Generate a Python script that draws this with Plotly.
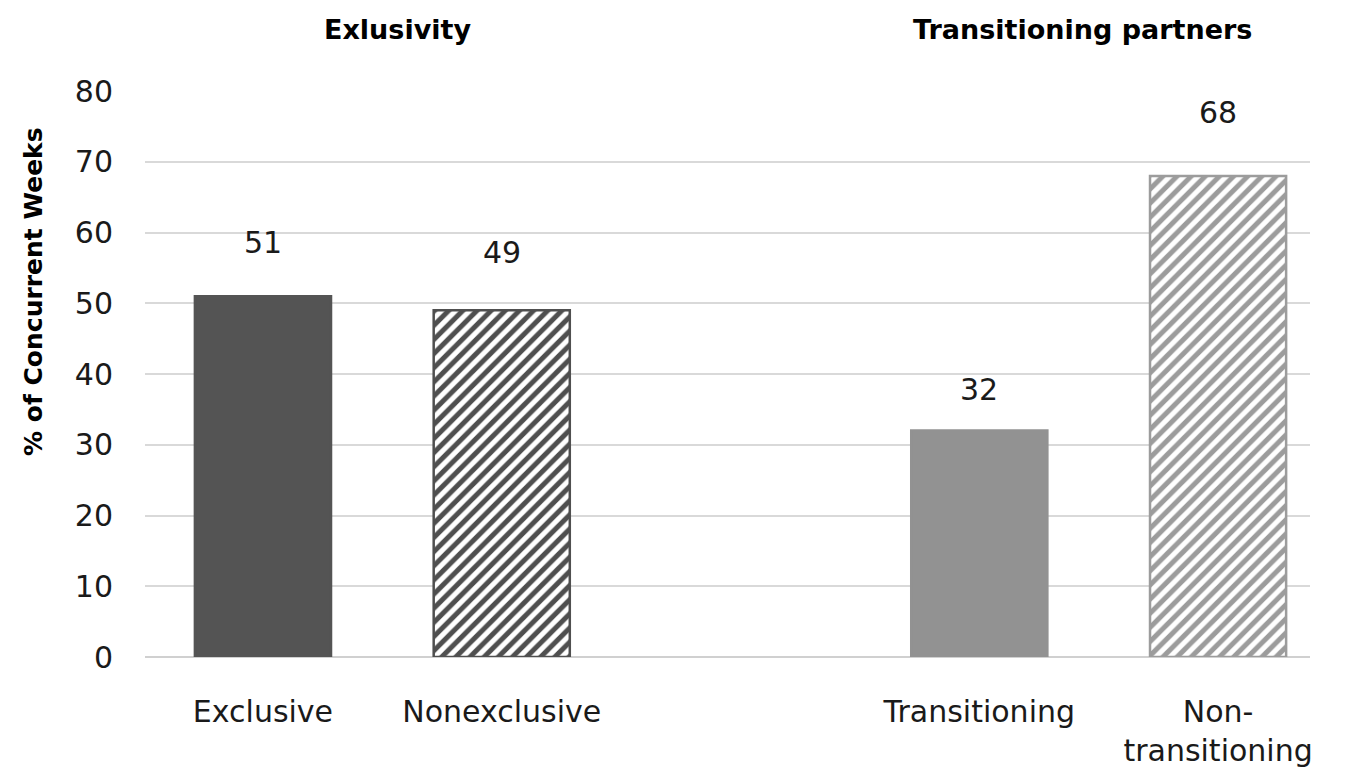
import plotly.graph_objects as go

# Share of concurrent weeks by partnership category
categories = ["Exclusive", "Nonexclusive", "Transitioning", "Non-<br>transitioning"]
positions = [0, 1, 3, 4]
values = [51, 49, 32, 68]
group_titles = ["Exlusivity", "Transitioning partners"]
y_ticks = [0, 10, 20, 30, 40, 50, 60, 70, 80]

# styling
fill_colors = ["#545454", "#ffffff", "#929292", "#ffffff"]
edge_colors = ["#545454", "#4f4f4f", "#929292", "#9c9c9c"]
hatch_shapes = ["", "/", "", "/"]
hatch_colors = ["#545454", "#4f4f4f", "#929292", "#9c9c9c"]
label_lift = [7.6, 8.2, 5.8, 8.9]

FONT = "'DejaVu Sans', sans-serif"

# plot-area geometry in pixels
W, H = 1349, 779
ML, MR, MT, MB = 145, 39, 91, 122
PW, PH = W - ML - MR, H - MT - MB


def px_x(px):
    return (px - ML) / PW


def px_y(py):
    return (H - MB - py) / PH


fig = go.Figure()
for xp, v, fc, ec, hs, hc in zip(positions, values, fill_colors, edge_colors,
                                  hatch_shapes, hatch_colors):
    fig.add_trace(go.Bar(
        x=[xp],
        y=[v],
        width=0.57,
        marker=dict(
            color=fc,
            line=dict(color=ec, width=2.5),
            pattern=dict(shape=hs, fgcolor=hc, bgcolor="#ffffff",
                         fgopacity=1, size=10, solidity=0.5, fillmode="overlay"),
        ),
        hoverinfo="skip",
        showlegend=False,
    ))

# value labels above bars
for xp, v, lift in zip(positions, values, label_lift):
    fig.add_annotation(x=xp, y=v + lift, text=str(v), showarrow=False,
                       font=dict(family=FONT, size=30, color="#1a1a1a"),
                       xref="x", yref="y", xanchor="center", yanchor="middle")

# group headings
for px, t in zip([397, 1082], group_titles):
    fig.add_annotation(x=px_x(px), y=px_y(29), xref="paper", yref="paper",
                       text=f"<b>{t}</b>", showarrow=False,
                       xanchor="center", yanchor="middle",
                       font=dict(family=FONT, size=27, color="#000000"))

# y-axis title
fig.add_annotation(x=px_x(33), y=px_y(292), xref="paper", yref="paper",
                   text="<b>% of Concurrent Weeks</b>", showarrow=False, textangle=-90,
                   xanchor="center", yanchor="middle",
                   font=dict(family=FONT, size=25, color="#000000"))

fig.update_layout(
    width=W, height=H,
    margin=dict(l=ML, r=MR, t=MT, b=MB),
    paper_bgcolor="white", plot_bgcolor="white",
    barmode="overlay",
    xaxis=dict(
        range=[-0.494, 4.385],
        tickmode="array", tickvals=positions, ticktext=categories,
        showgrid=False, zeroline=False, showline=False, ticks="",
        tickfont=dict(family=FONT, size=30, color="#1a1a1a"),
        ticklabelstandoff=34,
    ),
    yaxis=dict(
        range=[0, 80],
        tickmode="array", tickvals=y_ticks,
        showgrid=True, gridcolor="#d9d9d9", gridwidth=2,
        zeroline=True, zerolinecolor="#d0d0d0", zerolinewidth=2,
        showline=False, ticks="",
        tickfont=dict(family=FONT, size=30, color="#1a1a1a"),
        ticklabelstandoff=31,
    ),
)

fig.write_html("out.html")
